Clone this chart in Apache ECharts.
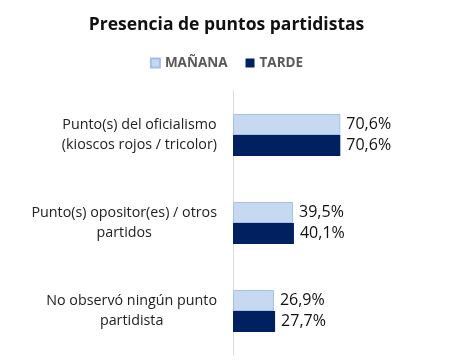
<!DOCTYPE html>
<html><head><meta charset="utf-8">
<script src="https://cdn.jsdelivr.net/npm/echarts@6/dist/echarts.min.js"></script>
<style>html,body{margin:0;padding:0;background:#fff}#c{width:453px;height:363px}</style>
</head><body><div id="c"></div>
<script>
const categories = ["Punto(s) del oficialismo\n(kioscos rojos / tricolor)", "Punto(s) opositor(es) / otros\npartidos", "No observó ningún punto\npartidista"];
const seriesNames = ["MAÑANA", "TARDE"];
const manana = [70.6, 39.5, 26.9];
const tarde = [70.6, 40.1, 27.7];

const chart = echarts.init(document.getElementById('c'));
const fmt = p => p.value.toFixed(1).replace('.', ',') + '%';
chart.setOption({
  animation: false,
  title: {text: 'Presencia de puntos partidistas', left: 'center', top: 11,
    textStyle: {fontFamily: 'Open Sans', fontSize: 17.5, fontWeight: 'bold', color: '#111'}},
  legend: {top: 51, left: 'center', itemWidth: 9, itemHeight: 9, itemGap: 18, icon: 'rect',
    textStyle: {fontFamily: 'Open Sans', fontSize: 13.5, fontWeight: 'bold', color: '#595959'}},
  grid: {left: 233, right: 68, top: 91, bottom: 8},
  xAxis: {type: 'value', min: 0, max: 100, show: false},
  yAxis: {type: 'category', data: categories, inverse: true,
    axisLine: {show: true, lineStyle: {color: '#d9d9d9'}}, axisTick: {show: false},
    axisLabel: {margin: 16, align: 'right',
      formatter: v => v.split('\n').map(s => '{a|' + s + '}').join('\n'),
      rich: {a: {fontFamily: 'Open Sans', fontSize: 14.3, color: '#222', align: 'center', lineHeight: 20}}}},
  series: [
    {name: seriesNames[0], type: 'bar', data: manana, barWidth: 21, barGap: '0%',
      itemStyle: {color: '#c6d9f1', borderColor: '#a3c0e8', borderWidth: 1},
      label: {show: true, position: 'right', formatter: fmt, fontFamily: 'Open Sans', fontSize: 16, color: '#111', distance: 6}},
    {name: seriesNames[1], type: 'bar', data: tarde, barWidth: 21,
      itemStyle: {color: '#002060'},
      label: {show: true, position: 'right', formatter: fmt, fontFamily: 'Open Sans', fontSize: 16, color: '#111', distance: 6}}
  ]
});
</script></body></html>
